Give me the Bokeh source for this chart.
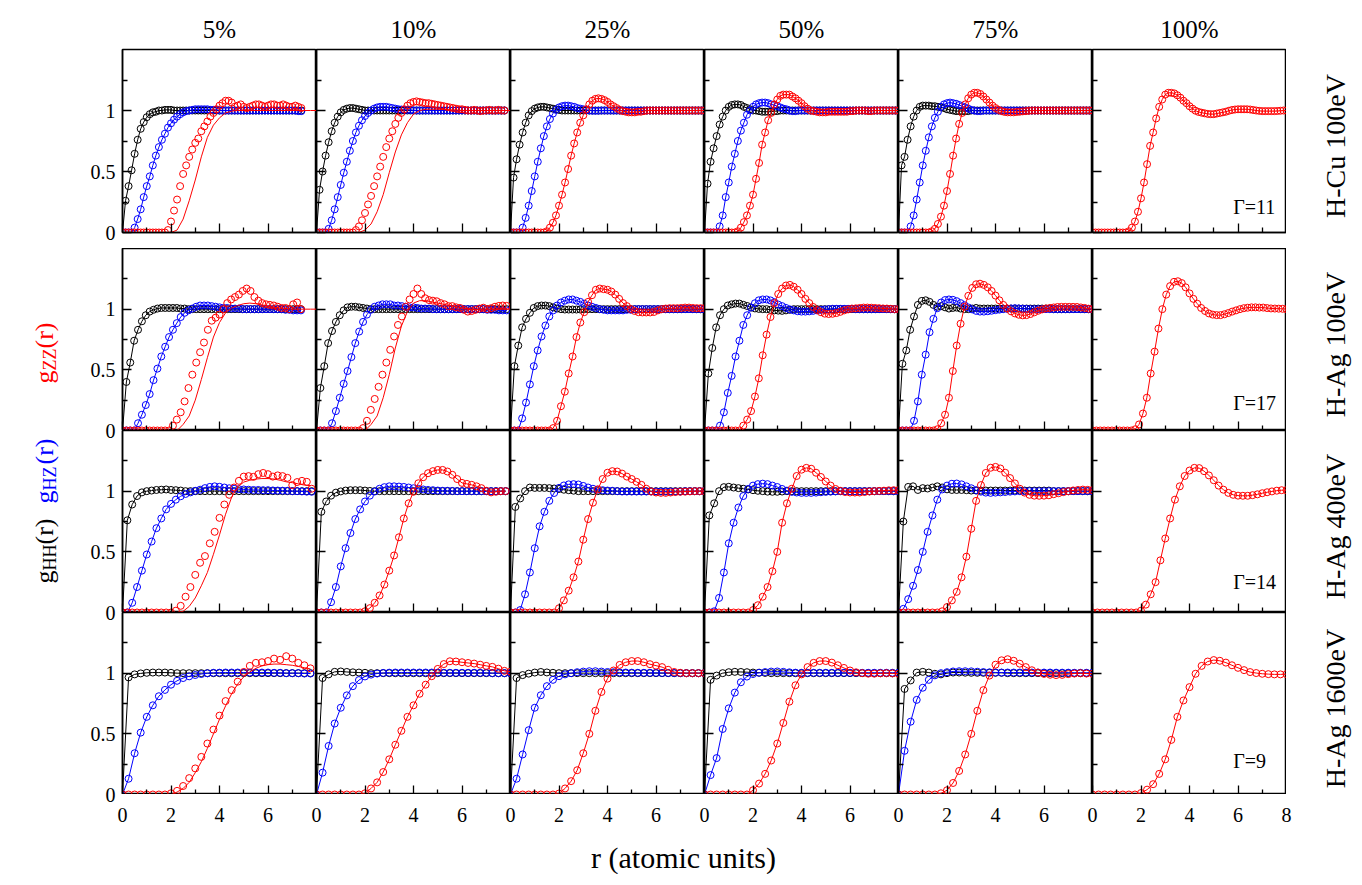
from bokeh.plotting import figure
from bokeh.models import Range1d, FixedTicker, Label
from bokeh.layouts import row, column
from bokeh.embed import file_html
from bokeh.resources import INLINE
import math

SERIF = "Liberation Serif"
C_HH, C_HZ, C_ZZ = "#000000", "#0000ff", "#ff0000"

COL_TITLES = ["5%", "10%", "25%", "50%", "75%", "100%"]
ROW_TITLES = ["H-Cu 100eV", "H-Ag 100eV", "H-Ag 400eV", "H-Ag 1600eV"]
GAMMAS = ["Γ=11", "Γ=17", "Γ=14", "Γ=9"]
X_LABEL = "r (atomic units)"
X_MAJOR = [0, 2, 4, 6]
X_MAJOR_LAST = [0, 2, 4, 6, 8]
X_MINOR = [1, 3, 5, 7]
Y_MAJOR = [0, 0.5, 1]
Y_MINOR = [0.25, 0.75, 1.25]
Y_TICK_TEXT = {0: "0", 0.5: "0.5", 1: "1"}

# sampling grids (r, atomic units)
R1 = [0.0, 0.125, 0.25, 0.375, 0.5, 0.625, 0.75, 0.875,
      1.0, 1.125, 1.25, 1.375, 1.5, 1.625, 1.75, 1.875,
      2.0, 2.125, 2.25, 2.375, 2.5, 2.625, 2.75, 2.875,
      3.0, 3.125, 3.25, 3.375, 3.5, 3.625, 3.75, 3.875,
      4.0, 4.125, 4.25, 4.375, 4.5, 4.625, 4.75, 4.875,
      5.0, 5.125, 5.25, 5.375, 5.5, 5.625, 5.75, 5.875,
      6.0, 6.125, 6.25, 6.375, 6.5, 6.625, 6.75, 6.875,
      7.0, 7.125, 7.25, 7.375, 7.5, 7.625, 7.75, 7.875, 8.0]
R2 = [0.0, 0.16, 0.32, 0.48, 0.64, 0.8, 0.96, 1.12, 1.28, 1.44,
      1.6, 1.76, 1.92, 2.08, 2.24, 2.4, 2.56, 2.72, 2.88, 3.04,
      3.2, 3.36, 3.52, 3.68, 3.84, 4.0, 4.16, 4.32, 4.48, 4.64,
      4.8, 4.96, 5.12, 5.28, 5.44, 5.6, 5.76, 5.92, 6.08, 6.24,
      6.4, 6.56, 6.72, 6.88, 7.04, 7.2, 7.36, 7.52, 7.68, 7.84, 8.0]
R3 = [0.0, 0.2, 0.4, 0.6, 0.8, 1.0, 1.2, 1.4, 1.6, 1.8,
      2.0, 2.2, 2.4, 2.6, 2.8, 3.0, 3.2, 3.4, 3.6, 3.8,
      4.0, 4.2, 4.4, 4.6, 4.8, 5.0, 5.2, 5.4, 5.6, 5.8,
      6.0, 6.2, 6.4, 6.6, 6.8, 7.0, 7.2, 7.4, 7.6, 7.8, 8.0]
R4 = [0.0, 0.25, 0.5, 0.75, 1.0, 1.25, 1.5, 1.75,
      2.0, 2.25, 2.5, 2.75, 3.0, 3.25, 3.5, 3.75,
      4.0, 4.25, 4.5, 4.75, 5.0, 5.25, 5.5, 5.75,
      6.0, 6.25, 6.5, 6.75, 7.0, 7.25, 7.5, 7.75, 8.0]

# ---------------- Row 1 : H-Cu 100eV (grid R1) ----------------
HH_1_05 = [0, 0.26, 0.38, 0.51, 0.645, 0.76, 0.85, 0.905,
           0.945, 0.97, 0.985, 0.99, 1, 1, 1.005, 1.005,
           1.005, 1, 1, 1, 1, 1, 1, 1,
           1, 1, 1, 1, 1, 1, 1, 1,
           1, 1, 1, 1, 1, 1, 1, 1,
           1, 1, 1, 1, 1, 1, 1, 1,
           1, 1, 1, 1, 1, 1, 1, 1,
           1, 1, 1, 1]
HZ_1_05 = [0, 0, 0, 0, 0.04, 0.11, 0.19, 0.29,
           0.38, 0.46, 0.55, 0.63, 0.70, 0.76, 0.81, 0.86,
           0.895, 0.925, 0.95, 0.97, 0.985, 0.995, 1, 1.005,
           1.01, 1.01, 1.01, 1.01, 1.01, 1.005, 1.005, 1.005,
           1, 1, 1, 1, 1, 1, 1, 1,
           1, 1, 1, 1, 1, 1, 1, 1,
           1, 1, 1, 1, 1, 1, 1, 1,
           1, 1, 0.995, 0.995]
ZZ_1_05 = [0, 0, 0, 0, 0, 0, 0, 0,
           0, 0, 0, 0, 0, 0, 0, 0.02,
           0.09, 0.18, 0.27, 0.38, 0.48, 0.55, 0.62, 0.68,
           0.735, 0.77, 0.83, 0.87, 0.91, 0.95, 0.98, 1.01,
           1.04, 1.06, 1.08, 1.08, 1.065, 1.03, 1.04, 1.05,
           1.03, 1.02, 1.03, 1.04, 1.05, 1.05, 1.04, 1.03,
           1.04, 1.05, 1.05, 1.04, 1.04, 1.05, 1.04, 1.03,
           1.03, 1.04, 1.03, 1.02]
ZZL_1_05 = [0, 0, 0, 0, 0, 0, 0, 0,
            0, 0.02, 0.11, 0.26, 0.43, 0.62, 0.78, 0.88,
            0.94, 0.98, 0.995, 1, 1, 1, 1, 1,
            1, 1, 1, 1, 1, 1, 1, 1, 1]

HH_1_10 = [0, 0.35, 0.5, 0.63, 0.74, 0.83, 0.9, 0.95,
           0.985, 1.005, 1.015, 1.02, 1.02, 1.015, 1.01, 1.005,
           1, 1, 1, 1, 1, 1, 1, 1,
           1, 1, 1, 1, 1, 1, 1, 1,
           1, 1, 1, 1, 1, 1, 1, 1,
           1, 1, 1, 1, 1, 1, 1, 1,
           1, 1, 1, 1, 1, 1, 1, 1,
           1, 1, 1, 1, 1, 1, 1]
HZ_1_10 = [0, 0, 0, 0, 0.03, 0.1, 0.19, 0.29,
           0.39, 0.49, 0.58, 0.67, 0.75, 0.82, 0.875, 0.92,
           0.955, 0.98, 1, 1.015, 1.025, 1.03, 1.03, 1.03,
           1.025, 1.02, 1.015, 1.01, 1.008, 1.005, 1.005, 1.005,
           1, 1, 1, 1, 1, 1, 1, 1,
           1, 1, 1, 1, 1, 1, 1, 1,
           1, 1, 1, 1, 1, 1, 1, 1,
           1, 1, 1, 1, 1, 1, 1]
ZZ_1_10 = [0, 0, 0, 0, 0, 0, 0, 0,
           0, 0, 0, 0, 0, 0.02, 0.05, 0.1,
           0.16, 0.23, 0.3, 0.38, 0.46, 0.54, 0.62, 0.7,
           0.77, 0.83, 0.89, 0.94, 0.98, 1.01, 1.04, 1.06,
           1.07, 1.075, 1.07, 1.065, 1.06, 1.06, 1.055, 1.05,
           1.045, 1.04, 1.035, 1.03, 1.025, 1.02, 1.015, 1.01,
           1.01, 1.005, 1, 1, 1.005, 1, 0.995, 1,
           1, 1.005, 1, 1, 1.005, 1, 1]
ZZL_1_10 = [0, 0, 0, 0, 0, 0, 0, 0,
            0.02, 0.07, 0.17, 0.31, 0.49, 0.66, 0.8, 0.9,
            0.97, 1, 1.01, 1.01, 1.01, 1.01, 1.005, 1.005,
            1, 1, 1, 1, 1, 1, 1, 1, 1]

HH_1_25 = [0, 0.45, 0.6, 0.72, 0.82, 0.9, 0.96, 0.995,
           1.015, 1.025, 1.03, 1.03, 1.025, 1.02, 1.015, 1.01,
           1.005, 1, 1, 1, 1, 1, 1, 1,
           1, 1, 1, 1, 1, 1, 1, 1,
           1, 1, 1, 1, 1, 1, 1, 1,
           1, 1, 1, 1, 1, 1, 1, 1,
           1, 1, 1, 1, 1, 1, 1, 1,
           1, 1, 1, 1, 1, 1, 1, 1, 1]
HZ_1_25 = [0, 0, 0, 0, 0.04, 0.12, 0.22, 0.34,
           0.46, 0.58, 0.69, 0.79, 0.87, 0.93, 0.975, 1.005,
           1.025, 1.035, 1.04, 1.04, 1.035, 1.03, 1.02, 1.015,
           1.01, 1.005, 1, 0.998, 0.998, 0.998, 1, 1,
           1, 1, 1, 1, 1, 1, 1, 1,
           1, 1, 1, 1, 1, 1, 1, 1,
           1, 1, 1, 1, 1, 1, 1, 1,
           1, 1, 1, 1, 1, 1, 1, 1, 1]
ZZ_1_25 = [0, 0, 0, 0, 0, 0, 0, 0,
           0, 0, 0, 0, 0.01, 0.04, 0.08, 0.14,
           0.22, 0.31, 0.41, 0.52, 0.63, 0.73, 0.82, 0.9,
           0.96, 1.01, 1.05, 1.08, 1.095, 1.1, 1.095, 1.085,
           1.07, 1.05, 1.035, 1.02, 1.005, 0.995, 0.99, 0.985,
           0.985, 0.985, 0.99, 0.99, 0.995, 1, 1, 1,
           1, 1, 1, 1, 1, 1, 1, 1,
           1, 1, 1, 1, 1, 1, 1, 1, 1]

HH_1_50 = [0, 0.40, 0.58, 0.69, 0.79, 0.885, 0.95, 1,
           1.03, 1.045, 1.05, 1.05, 1.045, 1.03, 1.02, 1.01,
           1, 1, 0.995, 0.99, 0.99, 0.99, 0.99, 0.995,
           0.995, 1, 1, 1, 1, 1, 1, 1,
           1, 1, 1, 1, 1, 1, 1, 1,
           1, 1, 1, 1, 1, 1, 1, 1,
           1, 1, 1, 1, 1, 1, 1, 1,
           1, 1, 1, 1, 1, 1, 1, 1, 1]
HZ_1_50 = [0, 0, 0, 0, 0, 0.05, 0.14, 0.29,
           0.41, 0.54, 0.645, 0.75, 0.835, 0.9, 0.965, 1,
           1.03, 1.05, 1.06, 1.065, 1.065, 1.06, 1.05, 1.045,
           1.035, 1.025, 1.015, 1.01, 1, 0.995, 0.995, 1,
           1, 1, 1, 1, 1, 1, 1, 1,
           1, 1, 1, 1, 1, 1, 1, 1,
           1, 1, 1, 1, 1, 1, 1, 1,
           1, 1, 1, 1, 1, 1, 1, 1, 1]
ZZ_1_50 = [0, 0, 0, 0, 0, 0, 0, 0,
           0, 0, 0, 0.01, 0.04, 0.085, 0.14, 0.22,
           0.31, 0.44, 0.57, 0.72, 0.82, 0.92, 0.98, 1.05,
           1.09, 1.12, 1.13, 1.13, 1.13, 1.115, 1.1, 1.08,
           1.06, 1.035, 1.015, 1, 0.995, 0.99, 0.985, 0.985,
           0.985, 0.99, 0.99, 0.99, 0.99, 0.99, 0.99, 0.99,
           0.995, 0.995, 1, 1, 1, 1, 0.995, 0.995,
           1, 1, 1, 1, 1, 1, 1, 1, 1]

HH_1_75 = [0, 0.55, 0.62, 0.76, 0.87, 0.95, 1, 1.03,
           1.04, 1.04, 1.04, 1.035, 1.035, 1.03, 1.025, 1.02,
           1.01, 1.005, 1, 0.995, 0.995, 0.995, 0.995, 0.995,
           1, 1, 1, 1, 1, 1, 1, 1,
           1, 1, 1, 1, 1, 1, 1, 1,
           1, 1, 1, 1, 1, 1, 1, 1,
           1, 1, 1, 1, 1, 1, 1, 1,
           1, 1, 1, 1, 1, 1, 1, 1, 1]
HZ_1_75 = [0, 0, 0, 0, 0.05, 0.14, 0.27, 0.41,
           0.55, 0.67, 0.78, 0.87, 0.94, 0.99, 1.03, 1.05,
           1.06, 1.065, 1.06, 1.055, 1.045, 1.035, 1.025, 1.015,
           1.005, 1, 0.995, 0.995, 1, 1, 1, 1,
           1, 1, 1, 1, 1, 1, 1, 1,
           1, 1, 1, 1, 1, 1, 1, 1,
           1, 1, 1, 1, 1, 1, 1, 1,
           1, 1, 1, 1, 1, 1, 1, 1, 1]
ZZ_1_75 = [0, 0, 0, 0, 0, 0, 0, 0,
           0, 0, 0, 0.01, 0.03, 0.07, 0.13, 0.22,
           0.34, 0.48, 0.63, 0.77, 0.89, 0.98, 1.05, 1.1,
           1.13, 1.145, 1.145, 1.135, 1.115, 1.09, 1.065, 1.04,
           1.02, 1.005, 0.995, 0.988, 0.985, 0.985, 0.985, 0.988,
           0.99, 0.993, 0.995, 0.998, 1, 1, 1, 1,
           1, 1, 1, 1, 1, 1, 1, 1,
           1, 1, 1, 1, 1, 1, 1, 1, 1]

ZZ_1_100 = [0, 0, 0, 0, 0, 0, 0, 0,
            0, 0, 0, 0, 0.01, 0.04, 0.09, 0.17,
            0.28, 0.41, 0.56, 0.71, 0.82, 0.935, 1.03, 1.09,
            1.13, 1.145, 1.145, 1.14, 1.125, 1.105, 1.08, 1.06,
            1.035, 1.015, 0.998, 0.988, 0.982, 0.977, 0.972, 0.97,
            0.97, 0.975, 0.98, 0.985, 0.99, 0.998, 1.004, 1.008,
            1.01, 1.01, 1.01, 1.01, 1.008, 1.004, 1, 0.997,
            0.995, 0.995, 0.995, 0.995, 0.995, 0.996, 0.998, 1, 1]

# ---------------- Row 2 : H-Ag 100eV (grid R2) ----------------
HH_2_05 = [0, 0.40, 0.56, 0.74, 0.83, 0.90, 0.95, 0.98, 0.995, 1.005,
           1.01, 1.01, 1.01, 1.01, 1.01, 1.005, 1.005, 1, 1, 1,
           1, 1, 1, 1, 1, 1, 1, 1, 1, 1,
           1, 1, 1, 1, 1, 1, 1, 1, 1, 1,
           1, 1, 1, 1, 1, 1, 1]
HZ_2_05 = [0, 0, 0, 0, 0.06, 0.13, 0.21, 0.30, 0.415, 0.51,
           0.61, 0.69, 0.77, 0.83, 0.885, 0.935, 0.97, 0.99, 1.005, 1.02,
           1.03, 1.03, 1.03, 1.025, 1.02, 1.015, 1.01, 1.01, 1.005, 1.005,
           1.005, 1, 1, 1, 1, 1, 1, 1, 1, 1,
           1, 1, 0.995, 0.995, 0.99, 0.99, 0.99]
ZZ_2_05 = [0, 0, 0, 0, 0, 0, 0, 0, 0, 0,
           0, 0, 0, 0.04, 0.09, 0.15, 0.24, 0.35, 0.46, 0.56,
           0.645, 0.725, 0.83, 0.905, 0.93, 0.955, 1, 1.05, 1.08, 1.10,
           1.12, 1.15, 1.17, 1.15, 1.10, 1.07, 1.05, 1.04, 1.035, 1.03,
           1.02, 1.01, 1.01, 1, 1.04, 1.055, 1]
ZZL_2_05 = [0, 0, 0, 0, 0, 0, 0, 0,
            0, 0, 0.05, 0.12, 0.25, 0.42, 0.60, 0.77,
            0.89, 0.97, 1.01, 1.03, 1.045, 1.05, 1.045, 1.035,
            1.025, 1.015, 1.01, 1.005, 1, 1, 1, 1, 1]

HH_2_10 = [0, 0.35, 0.53, 0.72, 0.82, 0.895, 0.95, 0.99, 1.015, 1.02,
           1.02, 1.015, 1.01, 1.005, 1, 1, 1, 1, 1, 1,
           1, 1, 1, 1, 1, 1, 1, 1, 1, 1,
           1, 1, 1, 1, 1, 1, 1, 1, 1, 1,
           1, 1, 1, 1, 1, 1, 1, 1, 1, 1]
HZ_2_10 = [0, 0, 0, 0, 0.06, 0.16, 0.27, 0.385, 0.49, 0.605,
           0.72, 0.815, 0.895, 0.955, 0.995, 1.02, 1.03, 1.04, 1.04, 1.04,
           1.03, 1.03, 1.025, 1.02, 1.015, 1.015, 1.01, 1.005, 1.005, 1.005,
           1, 1, 1, 1, 1, 1, 1, 1, 1, 1,
           1, 1, 1, 1, 0.995, 0.995, 0.995, 0.99, 0.99, 0.99]
ZZ_2_10 = [0, 0, 0, 0, 0, 0, 0, 0, 0, 0,
           0, 0, 0.02, 0.08, 0.17, 0.26, 0.36, 0.46, 0.56, 0.665,
           0.775, 0.87, 0.94, 1.02, 1.08, 1.125, 1.17, 1.125, 1.09, 1.075,
           1.07, 1.065, 1.05, 1.04, 1.025, 1.025, 1.015, 1.01, 0.995, 0.98,
           0.985, 0.995, 1.005, 1.012, 1, 1.008, 1.02, 1.027, 1.03, 1.027]
ZZL_2_10 = [0, 0, 0, 0, 0, 0, 0, 0,
            0, 0.05, 0.12, 0.27, 0.46, 0.68, 0.86, 0.98,
            1.05, 1.07, 1.07, 1.06, 1.05, 1.04, 1.03, 1.02,
            1.01, 1, 0.995, 1, 1, 1, 1, 1, 1]

HH_2_25 = [0, 0.53, 0.70, 0.85, 0.92, 0.97, 1.01, 1.025, 1.03, 1.03,
           1.025, 1.015, 1.005, 1, 0.997, 0.997, 0.997, 0.997, 0.997, 1,
           1, 1, 1, 1, 1, 1, 1, 1, 1, 1,
           1, 1, 1, 1, 1, 1, 1, 1, 1, 1,
           1, 1, 1, 1, 1, 1, 1, 1, 1, 1, 1]
HZ_2_25 = [0, 0, 0, 0.10, 0.23, 0.38, 0.53, 0.66, 0.775, 0.865,
           0.94, 0.99, 1.03, 1.055, 1.07, 1.08, 1.08, 1.07, 1.06, 1.045,
           1.03, 1.02, 1.01, 1, 0.995, 0.99, 0.99, 0.99, 0.99, 0.99,
           0.995, 0.995, 1, 1, 1, 1, 1, 1, 1, 1,
           1, 1, 1, 1, 1, 1, 1, 1, 1, 1, 1]
ZZ_2_25 = [0, 0, 0, 0, 0, 0, 0, 0, 0, 0,
           0, 0.02, 0.08, 0.2, 0.32, 0.47, 0.61, 0.77, 0.89, 0.975,
           1.06, 1.115, 1.16, 1.17, 1.165, 1.16, 1.145, 1.12, 1.085, 1.05,
           1.025, 1, 0.985, 0.975, 0.973, 0.973, 0.973, 0.977, 0.99, 1,
           1.005, 1.008, 1.008, 1.008, 1.01, 1.013, 1.013, 1.01, 1.008, 1.008, 1.008]

HH_2_50 = [0, 0.47, 0.68, 0.85, 0.95, 1, 1.03, 1.04, 1.046, 1.046,
           1.036, 1.026, 1.014, 1.006, 1.002, 1, 1, 0.995, 0.99, 0.988,
           0.986, 0.99, 0.995, 1, 1, 1, 1, 1, 1, 1,
           1, 1, 1, 1, 1, 1, 1, 1, 1, 1,
           1, 1, 1, 1, 1, 1, 1, 1, 1, 1, 1]
HZ_2_50 = [0, 0, 0, 0, 0.04, 0.15, 0.31, 0.45, 0.61, 0.74,
           0.87, 0.95, 1.013, 1.049, 1.073, 1.08, 1.08, 1.072, 1.058, 1.038,
           1.025, 1.01, 0.998, 0.99, 0.983, 0.98, 0.98, 0.982, 0.986, 0.99,
           0.994, 0.997, 1, 1.003, 1.003, 1.003, 1.003, 1.003, 1.003, 1,
           1, 1, 1, 1, 1, 1, 1, 1, 1, 1, 1]
ZZ_2_50 = [0, 0, 0, 0, 0, 0, 0, 0, 0, 0,
           0.04, 0.09, 0.16, 0.28, 0.43, 0.62, 0.79, 0.935, 1.05, 1.125,
           1.17, 1.195, 1.2, 1.185, 1.16, 1.125, 1.085, 1.05, 1.018, 0.993,
           0.975, 0.963, 0.96, 0.962, 0.968, 0.978, 0.99, 0.998, 1.005, 1.007,
           1.01, 1.013, 1.013, 1.012, 1.01, 1.008, 1.006, 1.005, 1.003, 1, 1]

HH_2_75 = [0, 0.55, 0.66, 0.83, 0.94, 1.035, 1.068, 1.073, 1.06, 1.035,
           1.02, 1.025, 1.015, 1.005, 1.01, 1.013, 1.005, 1, 1, 1.005,
           1.01, 1.005, 1.005, 1.005, 1.005, 1.005, 1.005, 1.005, 1.005, 1.005,
           1.005, 1.005, 1.005, 1.005, 1.005, 1.005, 1.005, 1.005, 1.005, 1.005,
           1, 1, 1, 1, 1, 1, 1, 1, 1, 1, 1]
HZ_2_75 = [0, 0, 0, 0, 0.08, 0.24, 0.46, 0.625, 0.81, 0.92,
           1.008, 1.055, 1.075, 1.08, 1.077, 1.066, 1.05, 1.033, 1.014, 0.998,
           0.986, 0.98, 0.98, 0.983, 0.987, 0.992, 0.996, 1, 1.004, 1.006,
           1.008, 1.006, 1.004, 1.002, 1, 1, 1, 1, 1, 1,
           1, 1, 1, 1, 1, 1, 1, 1, 1, 1, 1]
ZZ_2_75 = [0, 0, 0, 0, 0, 0, 0, 0, 0, 0,
           0.01, 0.06, 0.13, 0.27, 0.49, 0.70, 0.88, 1.02, 1.11, 1.175,
           1.205, 1.21, 1.2, 1.18, 1.15, 1.112, 1.073, 1.035, 1.006, 0.982,
           0.965, 0.954, 0.949, 0.951, 0.96, 0.974, 0.987, 0.998, 1.006, 1.01,
           1.014, 1.018, 1.019, 1.019, 1.019, 1.019, 1.018, 1.014, 1.01, 1.004, 1]

ZZ_2_100 = [0, 0, 0, 0, 0, 0, 0, 0, 0, 0,
            0, 0.01, 0.05, 0.14, 0.27, 0.47, 0.65, 0.84, 1, 1.12,
            1.19, 1.225, 1.23, 1.215, 1.18, 1.13, 1.085, 1.045, 1.01, 0.985,
            0.965, 0.955, 0.951, 0.951, 0.958, 0.968, 0.98, 0.99, 1, 1.008,
            1.012, 1.015, 1.015, 1.013, 1.013, 1.009, 1.006, 1.005, 1.004, 1.003, 1]

# ---------------- Row 3 : H-Ag 400eV (grid R3) ----------------
HH_3_05 = [0, 0.76, 0.89, 0.96, 0.99, 1, 1.005, 1.01, 1.012, 1.014,
           1.01, 1.008, 1.005, 1, 1, 1, 1, 1, 1, 1,
           1, 1, 1, 1, 1, 1, 1, 1, 1, 1,
           1, 1, 1, 1, 1, 1, 1, 1, 1, 1]
HZ_3_05 = [0, 0, 0.08, 0.21, 0.345, 0.478, 0.585, 0.695, 0.775, 0.85,
           0.895, 0.93, 0.958, 0.977, 0.99, 1.003, 1.012, 1.025, 1.035, 1.04,
           1.036, 1.03, 1.024, 1.02, 1.016, 1.014, 1.012, 1.01, 1.01, 1.008,
           1.008, 1.006, 1.005, 1.004, 1.003, 1, 1, 0.998, 0.996, 0.995]
ZZ_3_05 = [0, 0, 0, 0, 0, 0, 0, 0, 0, 0,
           0, 0.015, 0.055, 0.13, 0.21, 0.31, 0.41, 0.465, 0.57, 0.665,
           0.78, 0.89, 0.97, 1.03, 1.085, 1.12, 1.124, 1.118, 1.14, 1.15,
           1.14, 1.12, 1.13, 1.124, 1.11, 1.05, 1.075, 1.085, 1.077, 1.02]
ZZL_3_05 = [0, 0, 0, 0, 0, 0, 0, 0,
            0, 0, 0.01, 0.05, 0.12, 0.22, 0.33, 0.48,
            0.64, 0.81, 0.95, 1.035, 1.075, 1.09, 1.1, 1.104,
            1.104, 1.1, 1.09, 1.077, 1.07, 1.06, 1.05, 1.045]

HH_3_10 = [0, 0.83, 0.915, 0.963, 0.988, 0.998, 1.005, 1.008, 1.008, 1.008,
           1.005, 1.002, 1, 1, 1, 1, 1, 1, 1, 1,
           1, 1, 1, 1, 1, 1, 1, 1, 1, 1,
           1, 1, 1, 1, 1, 1, 1, 1, 1, 1]
HZ_3_10 = [0, 0, 0, 0.085, 0.21, 0.38, 0.53, 0.655, 0.77, 0.85,
           0.915, 0.963, 0.997, 1.02, 1.033, 1.04, 1.04, 1.038, 1.035, 1.03,
           1.024, 1.019, 1.014, 1.01, 1.008, 1.005, 1.003, 1.003, 1.002, 1,
           1, 1, 1, 1, 1, 1, 1, 1, 1, 1]
ZZ_3_10 = [0, 0, 0, 0, 0, 0, 0, 0, 0, 0,
           0.01, 0.036, 0.08, 0.14, 0.23, 0.345, 0.47, 0.62, 0.775, 0.9,
           0.995, 1.065, 1.115, 1.148, 1.165, 1.175, 1.175, 1.162, 1.135, 1.1,
           1.068, 1.06, 1.052, 1.04, 1.025, 1.003, 0.99, 0.995, 1, 1]

HH_3_25 = [0, 0.87, 0.94, 1, 1.03, 1.027, 1.027, 1.027, 1.025, 1.022,
           1.018, 1.012, 1.008, 1.004, 1, 1, 1, 1, 1, 1,
           1, 1, 1, 1, 1, 1, 1, 1, 1, 1,
           1, 1, 1, 1, 1, 1, 1, 1, 1, 1, 1]
HZ_3_25 = [0, 0, 0.02, 0.15, 0.33, 0.53, 0.71, 0.83, 0.92, 0.985,
           1.027, 1.047, 1.056, 1.058, 1.055, 1.043, 1.03, 1.02, 1.012, 1.008,
           1.005, 1.003, 1, 0.997, 0.997, 0.997, 0.997, 0.997, 0.997, 0.997,
           0.997, 0.997, 0.997, 0.997, 0.997, 0.997, 1, 1, 1, 1, 1]
ZZ_3_25 = [0, 0, 0, 0, 0, 0, 0, 0, 0, 0,
           0.035, 0.1, 0.18, 0.29, 0.42, 0.6, 0.77, 0.905, 1.015, 1.1,
           1.152, 1.165, 1.162, 1.145, 1.12, 1.1, 1.077, 1.052, 1.02, 0.997,
           0.989, 0.986, 0.986, 0.989, 0.993, 0.995, 0.996, 0.998, 1, 1, 1]

HH_3_50 = [0, 0.8, 0.9, 1, 1.033, 1.036, 1.03, 1.025, 1.02, 1.014,
           1.008, 1.003, 1, 0.996, 0.995, 0.995, 0.997, 1, 1, 1,
           1, 1, 1, 1, 1, 1, 1, 1, 1, 1,
           1, 1, 1, 1, 1, 1, 1, 1, 1, 1, 1]
HZ_3_50 = [0, 0, 0.01, 0.12, 0.33, 0.57, 0.74, 0.865, 0.96, 1.018,
           1.046, 1.058, 1.062, 1.058, 1.046, 1.034, 1.018, 1.004, 0.994, 0.989,
           0.986, 0.986, 0.986, 0.988, 0.991, 0.994, 0.996, 0.998, 1, 1,
           1, 1, 1, 1, 1, 1, 1, 1, 1, 1, 1]
ZZ_3_50 = [0, 0, 0, 0, 0, 0, 0, 0, 0, 0,
           0.02, 0.06, 0.13, 0.21, 0.34, 0.5, 0.74, 0.9, 1.02, 1.125,
           1.177, 1.192, 1.185, 1.152, 1.117, 1.08, 1.046, 1.018, 1.003, 0.993,
           0.989, 0.989, 0.989, 0.993, 0.997, 1, 1.002, 1.004, 1.007, 1.008, 1.008]

HH_3_75 = [0, 0.75, 1.035, 1.04, 1.01, 1.025, 1.022, 1.03, 1.04, 1.03,
           1.015, 1.01, 1.01, 1.01, 1.008, 1.005, 1.005, 1.005, 1.005, 1.005,
           1.005, 1.005, 1.005, 1.005, 1.005, 1.005, 1.005, 1.005, 1.005, 1.005,
           1.005, 1.005, 1, 1, 1, 1, 1, 1, 1, 1, 1]
HZ_3_75 = [0, 0.03, 0.11, 0.22, 0.35, 0.5, 0.665, 0.8, 0.93, 1.014,
           1.046, 1.061, 1.063, 1.056, 1.04, 1.024, 1.008, 0.996, 0.988, 0.986,
           0.988, 0.99, 0.993, 0.996, 0.998, 1, 1, 1, 1, 1,
           1, 1, 1, 1, 1, 1, 1, 1, 1, 1, 1]
ZZ_3_75 = [0, 0, 0, 0, 0, 0, 0, 0, 0, 0.01,
           0.045, 0.1, 0.17, 0.29, 0.46, 0.69, 0.92, 1.05, 1.15, 1.193,
           1.2, 1.187, 1.152, 1.108, 1.064, 1.02, 0.988, 0.97, 0.963, 0.962,
           0.963, 0.966, 0.975, 0.983, 0.992, 0.999, 1.006, 1.01, 1.013, 1.011, 1.008]

ZZ_3_100 = [0, 0, 0, 0, 0, 0, 0, 0, 0, 0,
            0.015, 0.065, 0.15, 0.25, 0.43, 0.61, 0.775, 0.93, 1.04, 1.125,
            1.17, 1.192, 1.19, 1.165, 1.13, 1.09, 1.046, 1.012, 0.986, 0.97,
            0.963, 0.962, 0.962, 0.967, 0.974, 0.983, 0.991, 0.998, 1.004, 1.008, 1.008]

# ---------------- Row 4 : H-Ag 1600eV (grid R4) ----------------
HH_4_05 = [0, 0.965, 0.99, 0.998, 1.003, 1.005, 1.005, 1.005,
           1.003, 1, 1, 1, 1, 1, 1, 1,
           1, 1, 1, 1, 1, 1, 1, 1,
           1, 1, 1, 1, 1, 1, 1, 1]
HZ_4_05 = [0, 0.13, 0.34, 0.51, 0.64, 0.735, 0.81, 0.862,
           0.905, 0.937, 0.96, 0.974, 0.985, 0.993, 0.999, 1.003,
           1.004, 1.005, 1.005, 1.005, 1.005, 1.005, 1.005, 1.005,
           1.005, 1.003, 1.003, 1, 1, 1, 0.997, 0.997]
ZZ_4_05 = [0, 0, 0, 0, 0, 0, 0, 0,
           0.01, 0.03, 0.07, 0.135, 0.215, 0.31, 0.42, 0.535,
           0.65, 0.77, 0.86, 0.93, 1.01, 1.06, 1.085, 1.09,
           1.1, 1.12, 1.11, 1.14, 1.12, 1.085, 1.065, 1.04]
ZZL_4_05 = [0, 0, 0, 0, 0, 0, 0, 0,
            0, 0.02, 0.05, 0.1, 0.18, 0.27, 0.38, 0.5,
            0.62, 0.73, 0.83, 0.91, 0.97, 1.01, 1.04, 1.06,
            1.07, 1.075, 1.075, 1.07, 1.065, 1.055, 1.045, 1.035]

HH_4_10 = [0, 0.96, 0.99, 1.011, 1.014, 1.01, 1.007, 1.005,
           1.003, 1, 1, 1, 1, 1, 1, 1,
           1, 1, 1, 1, 1, 1, 1, 1,
           1, 1, 1, 1, 1, 1, 1, 1, 1]
HZ_4_10 = [0, 0.18, 0.40, 0.585, 0.715, 0.817, 0.893, 0.943,
           0.973, 0.988, 0.997, 1.002, 1.004, 1.005, 1.005, 1.005,
           1.005, 1.005, 1.005, 1.005, 1.005, 1.003, 1.003, 1.003,
           1.003, 1.003, 1.003, 1.003, 1.003, 1, 1, 1, 1]
ZZ_4_10 = [0, 0, 0, 0, 0, 0, 0, 0,
           0.01, 0.05, 0.1, 0.185, 0.29, 0.41, 0.525, 0.64,
           0.735, 0.83, 0.905, 0.975, 1.035, 1.075, 1.098, 1.096,
           1.09, 1.084, 1.079, 1.07, 1.06, 1.052, 1.037, 1.019, 1.012]

HH_4_25 = [0, 0.96, 0.984, 0.996, 1.005, 1.01, 1.006, 1.003,
           1, 1, 1, 1, 1, 1, 1, 1,
           1, 1, 1, 1, 1, 1, 1, 1,
           1, 1, 1, 1, 1, 1, 1, 1, 1]
HZ_4_25 = [0, 0.13, 0.33, 0.53, 0.715, 0.818, 0.893, 0.945,
           0.975, 0.99, 1, 1.008, 1.013, 1.016, 1.016, 1.013,
           1.01, 1.008, 1.006, 1.005, 1.004, 1.003, 1.003, 1.003,
           1.003, 1.002, 1.002, 1.001, 1, 1, 1, 1, 1]
ZZ_4_25 = [0, 0, 0, 0, 0, 0, 0, 0,
           0.008, 0.05, 0.11, 0.2, 0.34, 0.5, 0.69, 0.845,
           0.955, 1.022, 1.068, 1.09, 1.1, 1.1, 1.09, 1.074,
           1.062, 1.05, 1.028, 1.01, 1.003, 1, 1, 1, 1]

HH_4_50 = [0, 0.945, 0.98, 1, 1.008, 1.011, 1.01, 1.008,
           1.005, 1.004, 1.002, 1, 1, 1, 1, 1,
           1, 1, 1, 1, 1, 1, 1, 1,
           1, 1, 1, 1, 1, 1, 1, 1, 1]
HZ_4_50 = [0, 0.16, 0.3, 0.54, 0.71, 0.84, 0.925, 0.972,
           0.993, 1.003, 1.009, 1.013, 1.014, 1.011, 1.007, 1.004,
           1.003, 1.003, 1.003, 1.003, 1.003, 1.003, 1.003, 1.003,
           1.003, 1.003, 1.003, 1.003, 1.003, 1.003, 1.003, 1.003, 1.003]
ZZ_4_50 = [0, 0, 0, 0, 0, 0, 0, 0,
           0.035, 0.09, 0.17, 0.28, 0.42, 0.59, 0.765, 0.9,
           0.99, 1.05, 1.085, 1.1, 1.1, 1.087, 1.065, 1.043,
           1.022, 1.007, 1, 0.996, 0.996, 0.999, 1, 0.998, 0.995]

HH_4_75 = [0, 0.87, 0.94, 1.005, 1.011, 1.005, 0.995, 0.99,
           1, 1.005, 1.005, 1.004, 1.003, 1.003, 1.003, 1.003,
           1.003, 1.003, 1, 1, 1, 1, 1, 1,
           1, 1, 1, 1, 1, 1, 1, 1, 1]
HZ_4_75 = [0, 0.36, 0.6, 0.78, 0.88, 0.945, 0.982, 1,
           1.008, 1.014, 1.016, 1.016, 1.015, 1.012, 1.009, 1.007,
           1.006, 1.005, 1.005, 1.005, 1.005, 1.005, 1.005, 1.005,
           1.005, 1.005, 1.004, 1.004, 1.004, 1.003, 1.003, 1.003, 1.003]
ZZ_4_75 = [0, 0, 0, 0, 0, 0, 0, 0.01,
           0.035, 0.095, 0.194, 0.33, 0.5, 0.69, 0.86, 0.98,
           1.07, 1.106, 1.115, 1.102, 1.078, 1.05, 1.024, 1.005,
           0.994, 0.987, 0.984, 0.986, 0.992, 0.997, 1, 0.997, 0.995]

ZZ_4_100 = [0, 0, 0, 0, 0, 0, 0, 0,
            0.012, 0.04, 0.085, 0.17, 0.29, 0.45, 0.64, 0.775,
            0.885, 0.995, 1.06, 1.096, 1.108, 1.102, 1.087, 1.065,
            1.044, 1.025, 1.009, 1.001, 0.995, 0.992, 0.99, 0.99, 0.992]

# panel table: (grid, g_HH, g_HZ, g_ZZ, separate g_ZZ model line on R4 or None)
PANELS = [
    [(R1, HH_1_05, HZ_1_05, ZZ_1_05, ZZL_1_05), (R1, HH_1_10, HZ_1_10, ZZ_1_10, ZZL_1_10),
     (R1, HH_1_25, HZ_1_25, ZZ_1_25, None), (R1, HH_1_50, HZ_1_50, ZZ_1_50, None),
     (R1, HH_1_75, HZ_1_75, ZZ_1_75, None), (R1, None, None, ZZ_1_100, None)],
    [(R2, HH_2_05, HZ_2_05, ZZ_2_05, ZZL_2_05), (R2, HH_2_10, HZ_2_10, ZZ_2_10, ZZL_2_10),
     (R2, HH_2_25, HZ_2_25, ZZ_2_25, None), (R2, HH_2_50, HZ_2_50, ZZ_2_50, None),
     (R2, HH_2_75, HZ_2_75, ZZ_2_75, None), (R2, None, None, ZZ_2_100, None)],
    [(R3, HH_3_05, HZ_3_05, ZZ_3_05, ZZL_3_05), (R3, HH_3_10, HZ_3_10, ZZ_3_10, None),
     (R3, HH_3_25, HZ_3_25, ZZ_3_25, None), (R3, HH_3_50, HZ_3_50, ZZ_3_50, None),
     (R3, HH_3_75, HZ_3_75, ZZ_3_75, None), (R3, None, None, ZZ_3_100, None)],
    [(R4, HH_4_05, HZ_4_05, ZZ_4_05, ZZL_4_05), (R4, HH_4_10, HZ_4_10, ZZ_4_10, None),
     (R4, HH_4_25, HZ_4_25, ZZ_4_25, None), (R4, HH_4_50, HZ_4_50, ZZ_4_50, None),
     (R4, HH_4_75, HZ_4_75, ZZ_4_75, None), (R4, None, None, ZZ_4_100, None)],
]

# ---------------- layout constants (page pixels) ----------------
LEFT_W = 116          # y-label + tick-label strip (full height)
PAD_L = 6             # gap between strip and first frame
FRAME_W = 194
FRAME_H = [183, 182, 182, 182]
TOP_TITLE = 49
ROW_GAP = 16
RIGHT_W = 68
BOTTOM_H = 80
X_MAX, Y_MAX = 8.0, 1.5
GAMMA_Y = [0.213, 0.23, 0.255, 0.28]

FRAME_TOP = [TOP_TITLE, TOP_TITLE + FRAME_H[0] + ROW_GAP]
FRAME_TOP.append(FRAME_TOP[1] + FRAME_H[1])
FRAME_TOP.append(FRAME_TOP[2] + FRAME_H[2])
GRID_H = FRAME_TOP[3] + FRAME_H[3]
FRAME_LEFT = [LEFT_W + PAD_L + c * FRAME_W for c in range(6)]
PAGE_W = LEFT_W + PAD_L + 6 * FRAME_W + RIGHT_W
PAGE_H = GRID_H + BOTTOM_H


def style_axis(ax, ticks, minor):
    ax.ticker = FixedTicker(ticks=ticks, minor_ticks=minor)
    ax.axis_line_color = "black"
    ax.axis_line_width = 1.5
    ax.major_tick_in = 9
    ax.major_tick_out = 0
    ax.minor_tick_in = 5
    ax.minor_tick_out = 0
    ax.major_tick_line_color = "black"
    ax.minor_tick_line_color = "black"
    ax.major_tick_line_width = 1.3
    ax.minor_tick_line_width = 1.3
    # tick labels are drawn in the outer strips so that none is cut at a panel edge
    ax.major_label_text_font_size = "0px"
    ax.major_label_text_color = None
    ax.major_label_standoff = 0


def panel(ri, ci):
    grid, hh, hz, zz, zzl = PANELS[ri][ci]
    kw = dict(frame_width=FRAME_W, frame_height=FRAME_H[ri],
              x_range=Range1d(0, X_MAX), y_range=Range1d(0, Y_MAX),
              output_backend="svg", toolbar_location=None, tools="",
              min_border_left=PAD_L if ci == 0 else 0, min_border_right=0,
              min_border_top=TOP_TITLE if ri == 0 else 0,
              min_border_bottom=ROW_GAP if ri == 0 else 0,
              background_fill_color="white", border_fill_color="white")
    kw["title"] = COL_TITLES[ci] if ri == 0 else None
    p = figure(**kw)
    if ri == 0:
        p.title.align = "center"
        p.title.text_font = SERIF
        p.title.text_font_size = "25px"
        p.title.text_font_style = "normal"
        p.title.text_color = "black"
        p.title.standoff = 13
    p.grid.visible = False
    p.outline_line_color = "black"
    p.outline_line_width = 1.5
    style_axis(p.xaxis[0], X_MAJOR_LAST if ci == 5 else X_MAJOR, X_MINOR)
    style_axis(p.yaxis[0], Y_MAJOR, Y_MINOR)

    for ys, color, line_ys in ((hh, C_HH, None), (hz, C_HZ, None), (zz, C_ZZ, zzl)):
        if ys is None:
            continue
        n = min(len(grid), len(ys))
        xs, yv = grid[:n], ys[:n]
        if line_ys is None:
            p.line(xs, yv, line_color=color, line_width=1)
        else:
            m = min(len(R4), len(line_ys))
            p.line(R4[:m], line_ys[:m], line_color=color, line_width=1)
        p.scatter(xs, yv, marker="circle", size=7, fill_color=None,
                  line_color=color, line_width=1)
    if ci == 5:
        p.add_layout(Label(x=5.8, y=GAMMA_Y[ri], text=GAMMAS[ri], text_font=SERIF,
                           text_font_size="20px", text_color="black",
                           text_align="left", text_baseline="middle"))
    return p


def blank(w, h, x0, y0):
    p = figure(frame_width=w, frame_height=h, x_range=Range1d(x0, x0 + w),
               y_range=Range1d(y0 + h, y0), output_backend="svg",
               toolbar_location=None, tools="", x_axis_type=None, y_axis_type=None,
               min_border=0, title=None, background_fill_color="white",
               border_fill_color="white")
    p.outline_line_color = None
    p.grid.visible = False
    return p


def txt(p, x, y, t, size, color="black", align="center", baseline="middle", angle=0.0):
    p.add_layout(Label(x=x, y=y, text=t, angle=angle, text_font=SERIF,
                       text_font_size=size, text_color=color,
                       text_align=align, text_baseline=baseline))


# left strip (full height): coloured y label and y tick labels
left = blank(LEFT_W, PAGE_H, 0, 0)
YLAB = [  # (text, x, y, size, colour)
    ("g", 44, 583, "26px", C_HH), ("HH", 49, 570, "18px", C_HH), ("(r)", 44, 544, "26px", C_HH),
    ("g", 44, 503, "26px", C_HZ), ("HZ", 49, 490, "18px", C_HZ), ("(r)", 44, 464, "26px", C_HZ),
    ("g", 44, 383, "26px", C_ZZ), ("ZZ", 49, 370, "18px", C_ZZ), ("(r)", 44, 348, "26px", C_ZZ),
]
for t, x, y, s, c in YLAB:
    txt(left, x, y, t, s, c, align="left", baseline="alphabetic", angle=math.pi / 2)
for ri in range(4):
    for v in Y_MAJOR:
        ypix = FRAME_TOP[ri] + FRAME_H[ri] * (1 - v / Y_MAX)
        txt(left, LEFT_W - 1, ypix, Y_TICK_TEXT[v], "20px", align="right")

# right strip: row labels
right = blank(RIGHT_W, GRID_H, PAGE_W - RIGHT_W, 0)
for ri, t in enumerate(ROW_TITLES):
    yc = FRAME_TOP[ri] + FRAME_H[ri] / 2 + 5
    txt(right, PAGE_W - RIGHT_W + 49, yc, t, "28px", angle=math.pi / 2)

# bottom strip: x tick labels and x label
bottom = blank(PAGE_W - LEFT_W, BOTTOM_H, LEFT_W, GRID_H)
for ci in range(6):
    for v in (X_MAJOR_LAST if ci == 5 else X_MAJOR):
        xpix = FRAME_LEFT[ci] + FRAME_W * v / X_MAX
        txt(bottom, xpix, GRID_H + 20, str(v), "20px")
txt(bottom, 683, 857, X_LABEL, "30px")

grid_rows = [row(*[panel(ri, ci) for ci in range(6)]) for ri in range(4)]
page = row(left, column(row(column(*grid_rows), right), bottom))

open("out.html", "w").write(file_html(page, INLINE))
